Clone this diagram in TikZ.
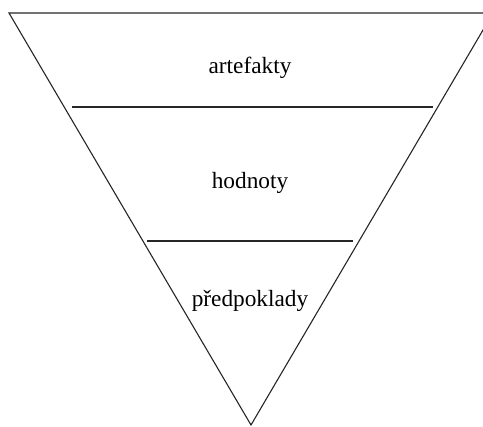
\documentclass[tikz,border=0pt]{standalone}
\usepackage{fontspec}
\setmainfont{Liberation Serif}
\begin{document}
\begin{tikzpicture}[x=1pt,y=-1pt,
  edge/.style={draw=black!85,line width=1.1pt},
  label/.style={font=\fontsize{23.3}{28}\selectfont,anchor=base,inner sep=0pt}]
\useasboundingbox (0,0) rectangle (483,427);
\clip (0,0) rectangle (483,427);
\coordinate (tl) at (9,13);
\coordinate (tr) at (493,13);
\coordinate (ap) at (251,425);
\draw[edge,line join=miter] (tl) -- (tr) -- (ap) -- cycle;
\coordinate (a1) at (72,107);
\coordinate (b1) at (433,107);
\coordinate (a2) at (147,241);
\coordinate (b2) at (353,241);
\draw[edge] (a1) -- (b1);
\draw[edge] (a2) -- (b2);
\node[label] (art) at (250,74) {artefakty};
\node[label] (hod) at (250,189) {hodnoty};
\node[label] (pre) at (250,307) {předpoklady};
\end{tikzpicture}
\end{document}
